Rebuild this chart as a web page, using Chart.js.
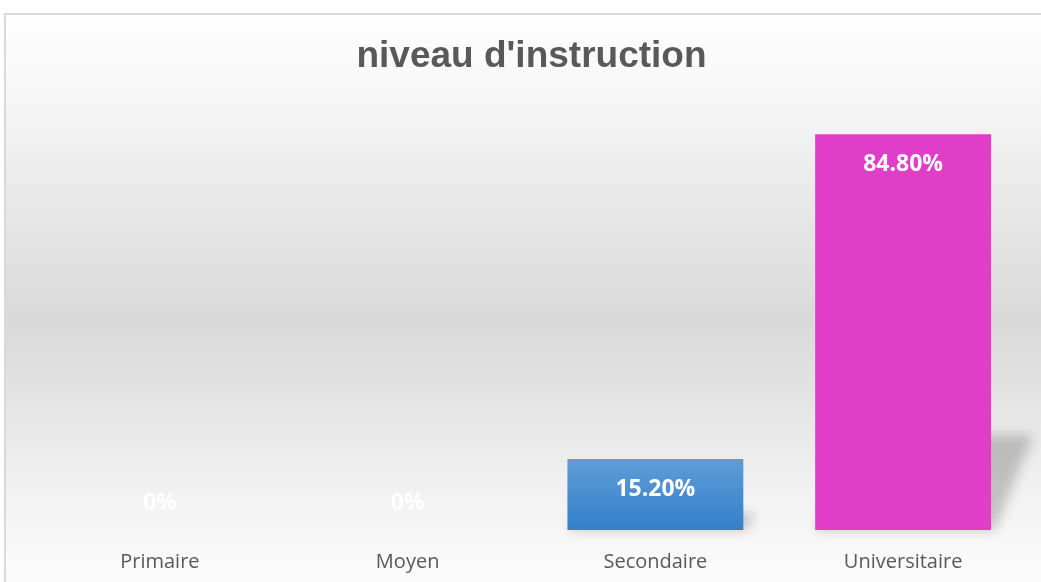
<!DOCTYPE html>
<html>
<head>
<meta charset="utf-8">
<script src="https://cdn.jsdelivr.net/npm/chart.js@4/dist/chart.umd.min.js"></script>
<style>
    html, body { margin: 0; padding: 0; background: #ffffff; overflow: hidden; }
    #wrap { position: absolute; left: 4px; top: 13px; width: 1056px; height: 581px; }
</style>
</head>
<body>
<div id="wrap"><canvas id="levelChart"></canvas></div>
<script>
// niveau d'instruction - share of respondents by level
const categories = ['Primaire', 'Moyen', 'Secondaire', 'Universitaire'];
const shares = [0, 0, 15.2, 84.8];
const barColors = ['#5b9bd5', '#5b9bd5', 'blue-gradient', '#e03dc8'];

// Background: light vertical gradient + thin frame
const backgroundPlugin = {
    id: 'chartBackground',
    beforeDraw(chart) {
        const ctx = chart.ctx;
        const w = chart.width, h = chart.height;
        const grad = ctx.createLinearGradient(0, 0, 0, 569);
        grad.addColorStop(0, '#ffffff');
        grad.addColorStop(0.15, '#f6f6f6');
        grad.addColorStop(0.54, '#d9d9d9');
        grad.addColorStop(0.86, '#f3f3f3');
        grad.addColorStop(1, '#fcfcfc');
        ctx.save();
        ctx.fillStyle = grad;
        ctx.fillRect(0, 0, w, h);
        ctx.strokeStyle = '#d9d9d9';
        ctx.lineWidth = 2;
        ctx.strokeRect(1, 1, w + 10, h + 30);
        ctx.restore();
    }
};

// Perspective shadow behind each bar
const shadowPlugin = {
    id: 'barShadow',
    beforeDatasetsDraw(chart) {
        const ctx = chart.ctx;
        const meta = chart.getDatasetMeta(0);
        ctx.save();
        ctx.filter = 'blur(6px)';
        ctx.fillStyle = 'rgba(0, 0, 0, 0.2)';
        meta.data.forEach(bar => {
            const h = bar.base - bar.y;
            if (h <= 1) return;
            const left = bar.x - bar.width / 2;
            const right = bar.x + bar.width / 2;
            const sh = h * 0.24;
            const shift = sh * 0.4 + 4;
            ctx.beginPath();
            ctx.moveTo(left, bar.base);
            ctx.lineTo(right + 4, bar.base);
            ctx.lineTo(right + shift, bar.base - sh);
            ctx.lineTo(left + shift, bar.base - sh);
            ctx.closePath();
            ctx.fill();
        });
        ctx.restore();
    }
};

// Value labels inside the top of each bar
const valueLabelPlugin = {
    id: 'valueLabels',
    afterDatasetsDraw(chart) {
        const ctx = chart.ctx;
        const meta = chart.getDatasetMeta(0);
        ctx.save();
        ctx.font = 'bold 23px "Open Sans"';
        ctx.fillStyle = '#ffffff';
        ctx.textAlign = 'center';
        ctx.textBaseline = 'middle';
        meta.data.forEach((bar, i) => {
            const value = shares[i];
            const text = value === 0 ? '0%' : value.toFixed(2) + '%';
            const y = value > 0 ? bar.y + 30 : bar.base - 27;
            ctx.fillText(text, bar.x, y);
        });
        ctx.restore();
    }
};

function barFill(context) {
    const i = context.dataIndex;
    if (barColors[i] !== 'blue-gradient') return barColors[i];
    const chart = context.chart;
    const yScale = chart.scales.y;
    if (!yScale || !chart.chartArea) return '#4a8fd2';
    const top = yScale.getPixelForValue(shares[i]);
    const base = yScale.getPixelForValue(0);
    const grad = chart.ctx.createLinearGradient(0, top, 0, base);
    grad.addColorStop(0, '#5e9dd7');
    grad.addColorStop(1, '#3380ca');
    return grad;
}

const ctx = document.getElementById('levelChart').getContext('2d');

new Chart(ctx, {
    type: 'bar',
    data: {
        labels: categories,
        datasets: [{
            data: shares,
            backgroundColor: barFill,
            borderWidth: 0,
            categoryPercentage: 1,
            barPercentage: 0.71
        }]
    },
    options: {
        responsive: true,
        maintainAspectRatio: false,
        animation: false,
        layout: {
            padding: { left: 32, right: 33, top: 0, bottom: 0 }
        },
        scales: {
            x: {
                grid: { display: false, drawTicks: false },
                border: { display: false },
                ticks: {
                    color: '#595959',
                    font: { family: 'Open Sans', size: 20 },
                    padding: 20
                }
            },
            y: {
                display: false,
                min: 0,
                max: 90
            }
        },
        plugins: {
            legend: { display: false },
            tooltip: { enabled: false },
            title: {
                display: true,
                text: "niveau d'instruction",
                color: '#595959',
                font: { family: 'Liberation Sans', size: 37, weight: 'bold' },
                padding: { top: 22, bottom: 30.6 }
            }
        }
    },
    plugins: [backgroundPlugin, shadowPlugin, valueLabelPlugin]
});
</script>
</body>
</html>
